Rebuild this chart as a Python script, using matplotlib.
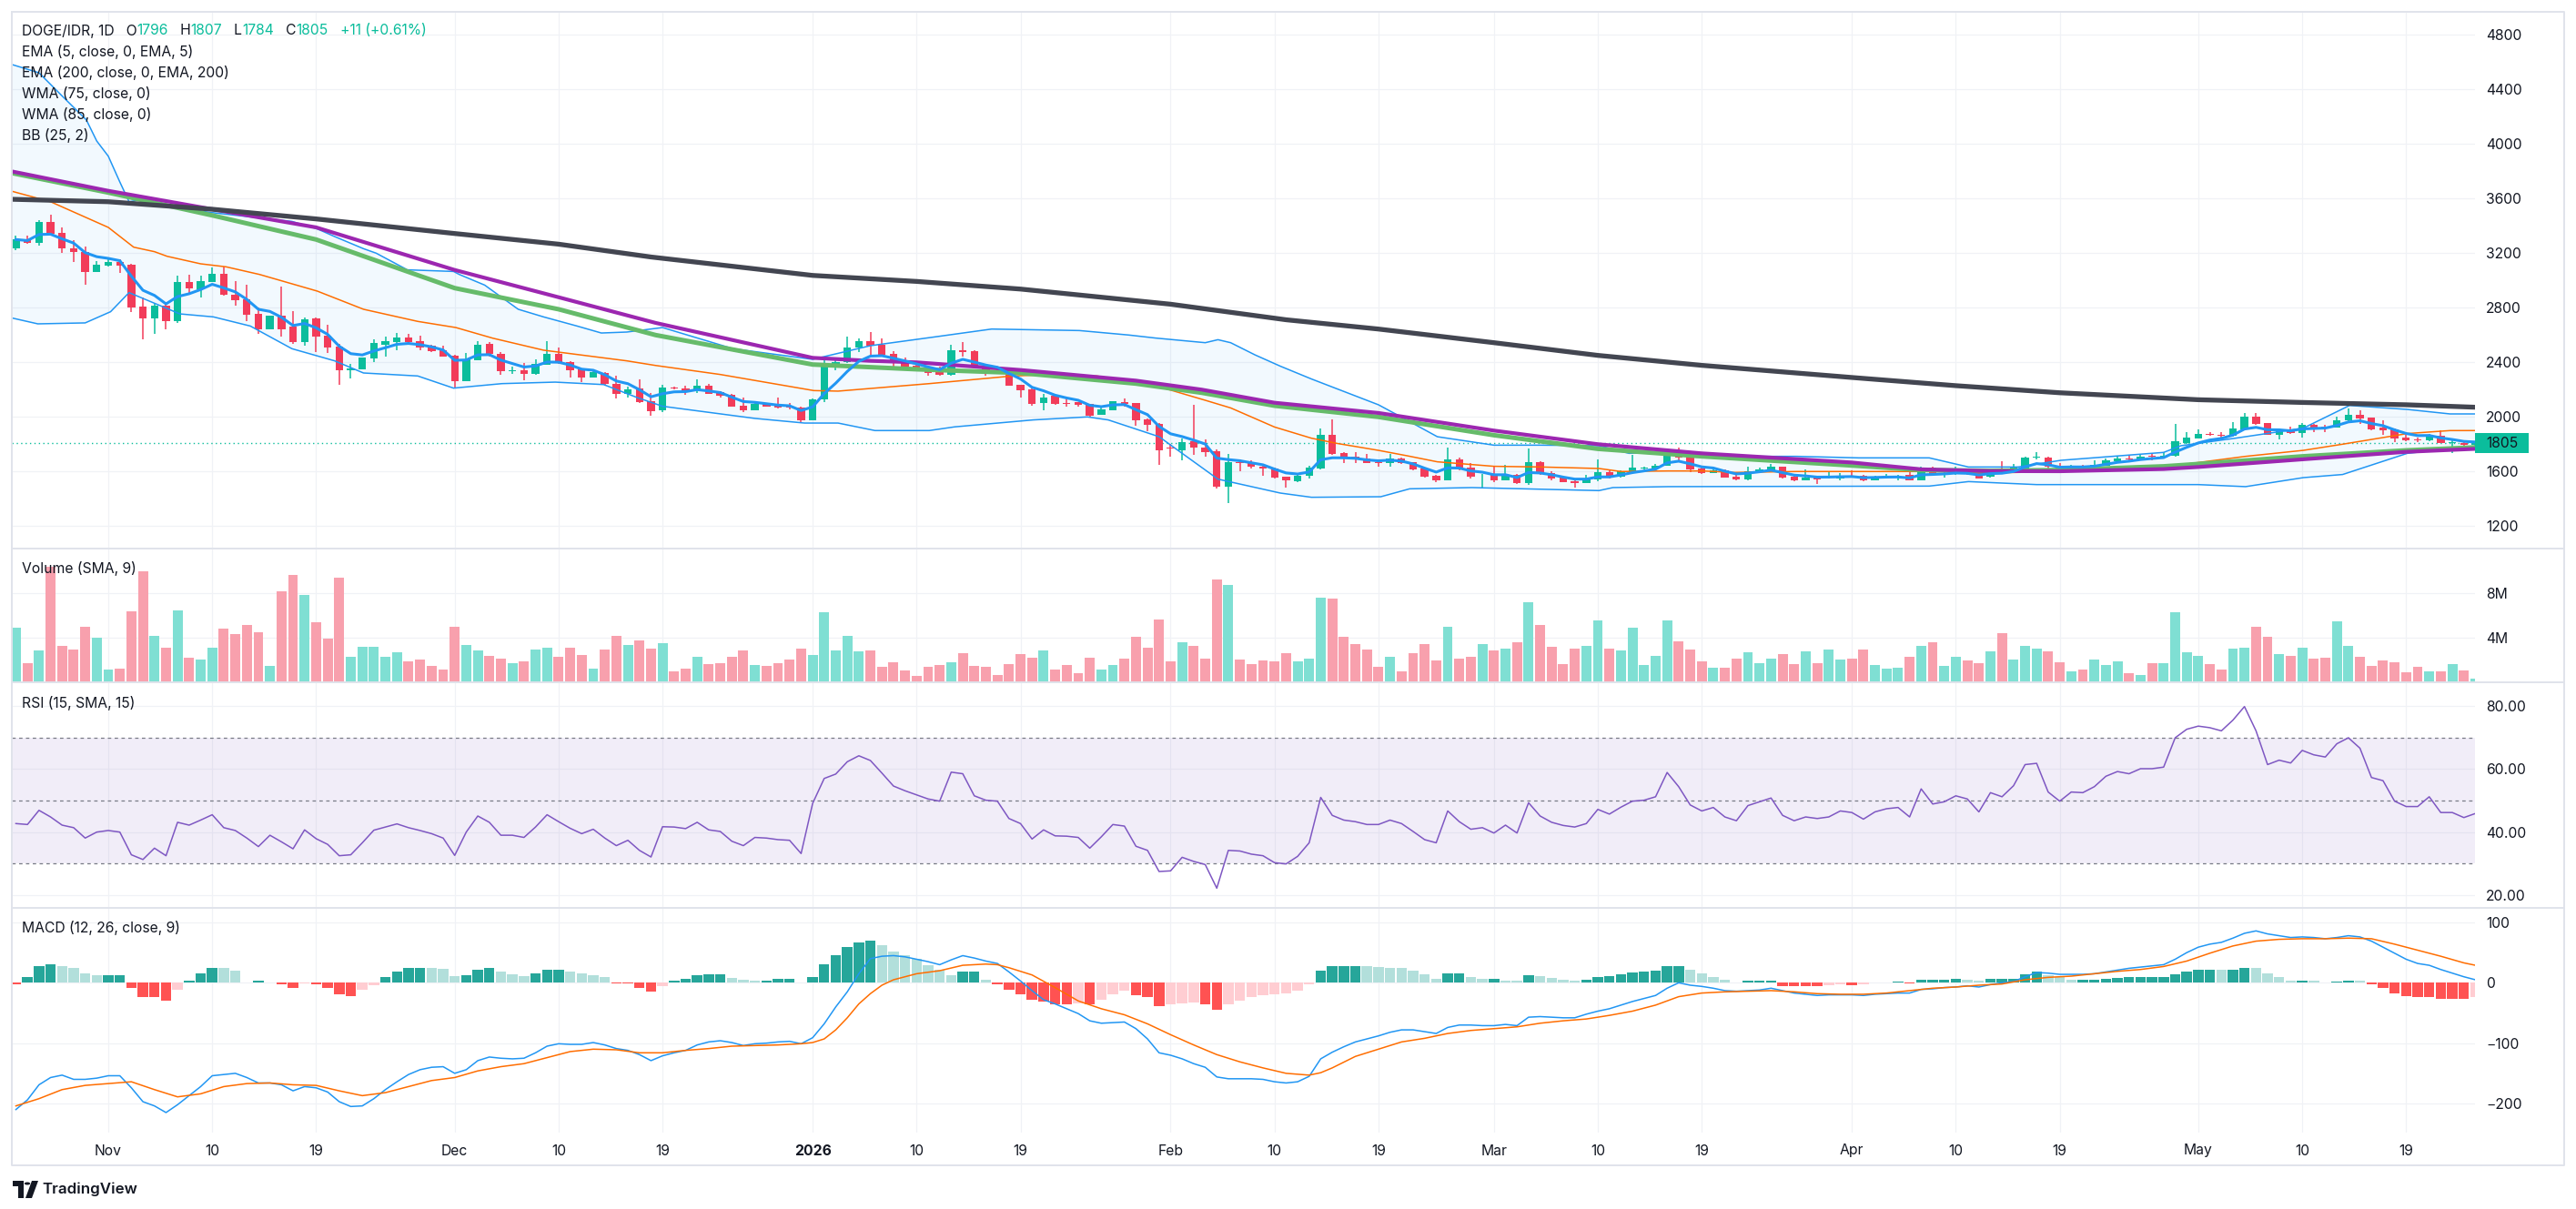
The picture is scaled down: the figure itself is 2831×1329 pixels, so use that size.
import numpy as np
import pandas as pd
import matplotlib
matplotlib.use("Agg")
import matplotlib.pyplot as plt
from matplotlib.lines import Line2D
from matplotlib.patches import Rectangle, Polygon, Circle

plt.rcParams['font.family'] = ['Inter', 'DejaVu Sans']

# ---------------- data (day 0 = 1 Nov 2025) ----------------
days = list(range(-8, 206))

opens = [3235, 3296, 3275, 3424, 3346, 3235, 3207, 3062, 3109, 3135,
         3113, 2806, 2720, 2813, 2702, 2987, 2936, 2989, 3047, 2895,
         2860, 2753, 2642, 2740, 2658, 2547, 2718, 2595, 2513, 2338,
         2347, 2429, 2527, 2549, 2580, 2553, 2520, 2487, 2447, 2262,
         2415, 2533, 2458, 2335, 2342, 2313, 2382, 2458, 2398, 2347,
         2287, 2320, 2242, 2169, 2209, 2113, 2049, 2213, 2209, 2191,
         2224, 2180, 2158, 2080, 2047, 2098, 2087, 2071, 2069, 1976,
         2124, 2364, 2398, 2504, 2553, 2527, 2458, 2391, 2375, 2353,
         2324, 2304, 2487, 2480, 2364, 2342, 2342, 2231, 2202, 2098,
         2153, 2098, 2104, 2091, 2015, 2049, 2109, 2098, 1980, 1947,
         1769, 1756, 1818, 1776, 1747, 1489, 1664, 1664, 1631, 1620,
         1560, 1527, 1564, 1620, 1864, 1731, 1709, 1691, 1666, 1660,
         1691, 1664, 1620, 1564, 1536, 1687, 1624, 1571, 1580, 1536,
         1575, 1513, 1664, 1587, 1553, 1527, 1516, 1542, 1593, 1560,
         1587, 1624, 1620, 1642, 1753, 1704, 1620, 1589, 1607, 1562,
         1540, 1598, 1609, 1631, 1562, 1536, 1553, 1556, 1549, 1566,
         1564, 1536, 1560, 1558, 1571, 1536, 1629, 1585, 1580, 1602,
         1587, 1558, 1609, 1591, 1620, 1700, 1698, 1631, 1593, 1636,
         1620, 1642, 1676, 1693, 1687, 1711, 1700, 1713, 1807, 1842,
         1873, 1867, 1858, 1909, 1998, 1953, 1869, 1902, 1882, 1938,
         1925, 1922, 1971, 2013, 1991, 1920, 1909, 1847, 1831, 1824,
         1862, 1807, 1809, 1796]

highs = [3325, 3329, 3442, 3480, 3387, 3291, 3247, 3142, 3153, 3153,
         3118, 2876, 2831, 2842, 3031, 3042, 3031, 3093, 3102, 2993,
         2964, 2798, 2742, 2953, 2776, 2727, 2725, 2671, 2531, 2387,
         2436, 2569, 2587, 2613, 2609, 2593, 2525, 2520, 2450, 2465,
         2553, 2547, 2476, 2365, 2391, 2420, 2553, 2509, 2404, 2350,
         2347, 2328, 2298, 2220, 2276, 2176, 2231, 2220, 2227, 2275,
         2242, 2187, 2165, 2138, 2098, 2100, 2138, 2098, 2076, 2131,
         2413, 2413, 2587, 2576, 2620, 2576, 2480, 2431, 2382, 2356,
         2365, 2524, 2547, 2487, 2376, 2369, 2345, 2236, 2209, 2169,
         2156, 2147, 2109, 2094, 2069, 2116, 2131, 2102, 1987, 1953,
         1798, 1842, 2087, 1831, 1760, 1725, 1687, 1680, 1642, 1624,
         1562, 1576, 1642, 1913, 1982, 1742, 1742, 1724, 1680, 1724,
         1698, 1666, 1622, 1576, 1775, 1698, 1658, 1582, 1631, 1647,
         1578, 1764, 1676, 1602, 1560, 1542, 1576, 1687, 1609, 1609,
         1720, 1631, 1653, 1764, 1771, 1720, 1627, 1620, 1613, 1587,
         1631, 1624, 1653, 1636, 1569, 1613, 1564, 1591, 1587, 1604,
         1576, 1569, 1580, 1576, 1591, 1631, 1634, 1604, 1631, 1616,
         1591, 1609, 1671, 1653, 1709, 1742, 1709, 1658, 1647, 1647,
         1680, 1691, 1716, 1720, 1720, 1736, 1742, 1944, 1887, 1909,
         1887, 1887, 1960, 2027, 2027, 1956, 1916, 1925, 1953, 1947,
         1942, 1998, 2058, 2047, 1993, 1971, 1911, 1864, 1847, 1876,
         1898, 1836, 1820, 1807]

lows = [3222, 3264, 3253, 3338, 3198, 3131, 2964, 3060, 3098, 3053,
        2764, 2564, 2604, 2642, 2687, 2898, 2876, 2985, 2887, 2815,
        2702, 2609, 2640, 2587, 2535, 2520, 2475, 2469, 2231, 2282,
        2345, 2398, 2442, 2487, 2542, 2487, 2471, 2438, 2209, 2258,
        2410, 2438, 2309, 2316, 2265, 2309, 2378, 2387, 2287, 2254,
        2285, 2227, 2131, 2142, 2098, 2009, 2031, 2198, 2160, 2176,
        2165, 2138, 2072, 2031, 2045, 2071, 2060, 2053, 1960, 1972,
        2109, 2338, 2391, 2476, 2442, 2442, 2338, 2342, 2340, 2298,
        2298, 2298, 2442, 2354, 2302, 2325, 2224, 2138, 2082, 2049,
        2087, 2071, 2076, 1998, 2013, 2047, 2076, 1931, 1894, 1649,
        1709, 1680, 1720, 1709, 1476, 1364, 1602, 1620, 1565, 1547,
        1480, 1520, 1547, 1616, 1720, 1660, 1660, 1658, 1631, 1631,
        1656, 1609, 1553, 1520, 1533, 1609, 1547, 1476, 1520, 1531,
        1509, 1502, 1576, 1531, 1520, 1480, 1515, 1527, 1547, 1556,
        1582, 1616, 1609, 1640, 1680, 1591, 1580, 1587, 1550, 1531,
        1536, 1591, 1604, 1547, 1525, 1533, 1509, 1549, 1531, 1553,
        1525, 1531, 1549, 1536, 1531, 1531, 1571, 1553, 1576, 1571,
        1545, 1553, 1589, 1589, 1616, 1687, 1620, 1587, 1591, 1613,
        1618, 1640, 1671, 1680, 1680, 1680, 1698, 1709, 1798, 1840,
        1858, 1849, 1856, 1904, 1942, 1864, 1836, 1876, 1849, 1887,
        1887, 1920, 1969, 1947, 1898, 1864, 1813, 1820, 1813, 1822,
        1804, 1733, 1769, 1784]

closes = [3298, 3275, 3424, 3342, 3235, 3209, 3062, 3113, 3135, 3109,
          2802, 2720, 2813, 2702, 2987, 2942, 2993, 3047, 2891, 2855,
          2749, 2642, 2740, 2642, 2547, 2713, 2587, 2507, 2342, 2353,
          2433, 2540, 2553, 2580, 2549, 2509, 2480, 2442, 2262, 2420,
          2527, 2458, 2335, 2338, 2313, 2387, 2458, 2396, 2338, 2287,
          2324, 2242, 2169, 2202, 2109, 2042, 2213, 2209, 2187, 2227,
          2169, 2153, 2075, 2047, 2093, 2075, 2064, 2069, 1976, 2124,
          2364, 2398, 2504, 2553, 2520, 2453, 2391, 2369, 2342, 2320,
          2304, 2487, 2476, 2360, 2335, 2329, 2227, 2195, 2093, 2138,
          2093, 2096, 2087, 2009, 2053, 2113, 2093, 1976, 1942, 1756,
          1766, 1813, 1776, 1742, 1489, 1664, 1660, 1631, 1618, 1553,
          1531, 1564, 1624, 1864, 1727, 1698, 1687, 1660, 1663, 1691,
          1660, 1613, 1560, 1536, 1687, 1620, 1560, 1575, 1536, 1575,
          1513, 1664, 1580, 1549, 1522, 1513, 1542, 1591, 1558, 1602,
          1624, 1627, 1642, 1753, 1698, 1616, 1587, 1607, 1553, 1540,
          1598, 1616, 1631, 1553, 1536, 1553, 1540, 1558, 1564, 1564,
          1536, 1558, 1562, 1560, 1536, 1620, 1582, 1588, 1600, 1580,
          1549, 1602, 1591, 1624, 1698, 1705, 1631, 1593, 1636, 1631,
          1647, 1680, 1693, 1691, 1709, 1709, 1713, 1820, 1847, 1871,
          1871, 1864, 1913, 1998, 1947, 1869, 1902, 1882, 1938, 1920,
          1922, 1973, 2013, 1987, 1909, 1902, 1842, 1824, 1830, 1864,
          1809, 1809, 1791, 1805]

volume_m = [4.86, 1.73, 2.82, 10.35, 3.29, 2.90, 5.02, 4.00, 1.12, 1.25,
            6.35, 9.96, 4.16, 3.14, 6.43, 2.20, 2.04, 3.14, 4.78, 4.31,
            5.18, 4.47, 1.49, 8.16, 9.65, 7.84, 5.41, 3.92, 9.41, 2.27,
            3.22, 3.22, 2.27, 2.67, 1.88, 2.04, 1.49, 1.18, 4.94, 3.37,
            2.82, 2.35, 2.12, 1.73, 1.88, 2.90, 3.14, 2.27, 3.14, 2.43,
            1.25, 2.90, 4.16, 3.37, 3.76, 2.98, 3.53, 0.94, 1.25, 2.27,
            1.65, 1.73, 2.27, 2.82, 1.57, 1.49, 1.73, 2.04, 3.06, 2.43,
            6.27, 2.82, 4.16, 2.75, 2.82, 1.41, 1.80, 1.10, 0.55, 1.41,
            1.57, 1.80, 2.59, 1.49, 1.41, 0.63, 1.65, 2.51, 2.20, 2.82,
            1.18, 1.57, 0.78, 2.20, 1.18, 1.57, 2.12, 4.08, 3.14, 5.65,
            1.88, 3.61, 3.29, 2.12, 9.25, 8.71, 2.04, 1.65, 1.96, 1.88,
            2.59, 1.88, 2.12, 7.61, 7.53, 4.08, 3.45, 2.90, 1.41, 2.27,
            1.02, 2.59, 3.45, 1.96, 4.94, 2.12, 2.27, 3.45, 2.82, 2.98,
            3.61, 7.22, 5.18, 3.22, 1.65, 2.98, 3.29, 5.57, 3.06, 2.82,
            4.86, 1.57, 2.35, 5.57, 3.69, 2.90, 1.88, 1.33, 1.33, 2.12,
            2.67, 1.73, 2.12, 2.51, 1.65, 2.75, 1.73, 2.90, 2.04, 2.12,
            2.90, 1.57, 1.25, 1.33, 2.27, 3.29, 3.61, 1.49, 2.27, 1.96,
            1.73, 2.75, 4.39, 2.04, 3.29, 3.06, 2.75, 1.80, 0.94, 1.18,
            2.04, 1.57, 1.88, 0.78, 0.63, 1.73, 1.73, 6.27, 2.67, 2.35,
            1.65, 1.18, 2.98, 3.14, 4.94, 4.08, 2.51, 2.35, 3.14, 2.12,
            2.20, 5.49, 3.29, 2.27, 1.49, 1.96, 1.80, 0.86, 1.41, 0.94,
            0.94, 1.65, 1.10, 0.31]

rsi = [42.7, 42.4, 46.9, 44.8, 42.2, 41.4, 38.1, 40.0, 40.5, 40.0,
       32.8, 31.3, 34.9, 32.5, 43.1, 42.2, 43.8, 45.5, 41.4, 40.5,
       38.1, 35.4, 39.0, 36.9, 34.7, 40.7, 37.9, 36.1, 32.5, 32.8,
       36.6, 40.6, 41.6, 42.6, 41.4, 40.5, 39.5, 38.1, 32.6, 40.0,
       45.1, 43.1, 39.0, 39.0, 38.3, 41.6, 45.5, 43.3, 41.2, 39.5,
       40.9, 38.1, 35.7, 37.4, 34.2, 32.1, 41.7, 41.6, 41.1, 43.1,
       40.7, 40.2, 37.1, 35.7, 38.3, 38.1, 37.6, 37.4, 33.2, 49.1,
       57.0, 58.4, 62.3, 64.2, 62.7, 58.7, 54.6, 53.1, 51.8, 50.5,
       49.8, 59.0, 58.5, 51.5, 50.1, 49.8, 44.3, 42.7, 37.8, 40.7,
       38.8, 38.7, 38.3, 34.9, 38.5, 42.4, 41.9, 35.5, 34.2, 27.5,
       27.7, 32.0, 30.7, 29.7, 22.2, 34.2, 34.0, 33.0, 32.5, 30.3,
       29.9, 32.3, 36.6, 51.0, 45.3, 43.8, 43.3, 42.4, 42.4, 43.8,
       42.7, 40.2, 37.6, 36.6, 46.7, 43.3, 40.9, 41.4, 39.7, 42.2,
       39.7, 49.3, 45.1, 43.1, 42.1, 41.6, 42.7, 47.2, 45.7, 47.9,
       49.8, 50.1, 51.2, 58.9, 54.4, 48.6, 46.7, 47.8, 44.8, 43.6,
       48.4, 49.6, 50.8, 45.3, 43.6, 44.8, 44.3, 44.8, 46.7, 46.2,
       44.1, 46.4, 47.4, 47.8, 44.8, 53.7, 48.9, 49.6, 51.5, 50.5,
       46.4, 52.5, 51.2, 54.7, 61.4, 61.8, 52.7, 49.8, 52.7, 52.5,
       54.4, 57.7, 59.2, 58.5, 60.1, 60.1, 60.6, 69.9, 72.6, 73.6,
       73.1, 72.1, 75.5, 79.8, 72.1, 61.4, 62.8, 61.9, 65.9, 64.5,
       63.8, 68.0, 69.9, 66.6, 57.3, 56.3, 49.8, 48.1, 48.1, 51.2,
       46.2, 46.2, 44.6, 45.9]

macd = [-210, -194, -169, -157, -153, -160, -160, -158, -154, -154,
        -174, -197, -204, -215, -202, -187, -172, -154, -152, -150,
        -157, -166, -166, -169, -179, -172, -174, -181, -197, -205,
        -204, -192, -177, -164, -152, -144, -140, -139, -150, -144,
        -129, -123, -125, -126, -125, -116, -105, -101, -102, -102,
        -99, -103, -109, -112, -119, -129, -121, -116, -112, -103,
        -98, -96, -99, -104, -101, -100, -98, -97, -101, -91,
        -68, -40, -15, 15, 40, 44, 45, 43, 39, 35,
        30, 38, 45, 41, 36, 32, 18, 3, -13, -28,
        -35, -43, -51, -63, -67, -66, -65, -76, -93, -116,
        -120, -126, -134, -140, -156, -159, -159, -159, -160, -164,
        -166, -164, -155, -126, -115, -106, -98, -93, -88, -82,
        -78, -78, -81, -84, -74, -70, -70, -71, -71, -69,
        -71, -57, -56, -57, -58, -58, -52, -47, -43, -37,
        -31, -26, -21, -9, 0, -4, -6, -9, -13, -14,
        -13, -12, -9, -13, -17, -19, -21, -20, -20, -20,
        -21, -19, -18, -17, -17, -11, -10, -8, -7, -5,
        -7, -3, 0, 2, 10, 17, 16, 14, 14, 14,
        15, 18, 21, 24, 26, 28, 30, 39, 50, 59,
        64, 67, 74, 82, 86, 81, 78, 75, 76, 75,
        73, 75, 78, 76, 69, 59, 49, 39, 32, 29,
        22, 16, 10, 5]

macd_hist = [-2, 9, 27, 31, 28, 25, 15, 12, 12, 12,
             -8, -23, -24, -29, -11, 3, 15, 25, 24, 20,
             1, 3, 0, -3, -9, -1, -3, -8, -19, -22,
             -11, -4, 9, 18, 24, 25, 24, 23, 11, 13,
             22, 24, 18, 14, 11, 15, 21, 22, 19, 16,
             13, 9, -1, -1, -8, -14, -5, 3, 7, 12,
             14, 14, 8, 5, 4, 4, 6, 6, 1, 9,
             30, 45, 60, 67, 70, 63, 51, 45, 39, 29,
             21, 12, 19, 19, 5, -3, -11, -19, -28, -31,
             -35, -35, -34, -35, -28, -19, -13, -20, -23, -39,
             -36, -34, -33, -36, -44, -36, -29, -23, -20, -19,
             -18, -13, -3, 20, 27, 28, 28, 27, 26, 25,
             24, 20, 14, 7, 15, 15, 10, 7, 7, 4,
             3, 13, 11, 8, 5, 4, 5, 9, 11, 14,
             17, 19, 20, 27, 27, 21, 15, 10, 5, 1,
             3, 4, 4, -5, -5, -6, -6, -4, -3, -4,
             -2, 0, 1, 2, -1, 5, 5, 5, 7, 5,
             4, 6, 6, 7, 14, 18, 12, 9, 5, 5,
             5, 7, 8, 9, 9, 9, 9, 14, 18, 22,
             22, 21, 21, 25, 24, 15, 10, 4, 4, 3,
             0, 2, 4, 3, -3, -9, -17, -22, -24, -24,
             -26, -26, -27, -23]

signal_days = [-8, -6, -4, -2, 0, 2, 4, 6, 8, 10, 12, 14, 16, 18, 20, 22, 24, 26, 28, 30,
               32, 34, 36, 38, 40, 42, 44, 46, 48, 50, 52, 54, 56, 58, 60, 61, 62, 63, 64,
               65, 66, 67, 68, 70, 72, 74, 76, 77, 78, 80, 82, 84, 86, 88, 90, 92, 94, 96,
               98, 100, 102, 104, 105, 106, 108, 110, 112, 114, 116, 118, 120, 122, 124,
               126, 128, 130, 132, 134, 136, 138, 140, 142, 144, 146, 148, 150, 152, 154,
               156, 158, 160, 162, 164, 166, 168, 170, 172, 174, 176, 178, 180, 182, 184,
               186, 188, 190, 192, 194, 196, 198, 200, 202, 204, 205]
signal_vals = [-204, -192, -177, -170, -167, -164, -177, -189, -184, -172, -167, -166, -169,
               -170, -179, -187, -182, -172, -162, -157, -146, -139, -134, -124, -114, -110,
               -111, -116, -116, -112, -109, -105, -104, -103, -101, -99, -93, -78, -58,
               -35, -18, -4, 5, 15, 20, 29, 31, 30, 25, 13, -8, -30, -43, -53, -68, -86,
               -103, -119, -131, -141, -150, -153, -149, -141, -122, -110, -98, -92, -84,
               -79, -76, -73, -67, -63, -60, -54, -47, -37, -23, -17, -15, -14, -13, -15,
               -18, -19, -19, -17, -13, -9, -7, -4, -2, 5, 9, 11, 15, 19, 22, 27, 36, 49,
               61, 69, 72, 73, 73, 74, 73, 64, 54, 44, 33, 29]

ema200_days = [-8.4, 0, 9, 18, 30, 39, 47, 61, 70, 79, 92, 102, 110, 120, 129, 138, 151,
               160, 169, 181, 190, 199, 205]
ema200_vals = [3593, 3575, 3520, 3449, 3342, 3264, 3170, 3035, 2991, 2935, 2824, 2710,
               2642, 2542, 2449, 2376, 2287, 2227, 2175, 2124, 2104, 2087, 2069]

wma75_days = [-8.4, 0, 9, 18, 30, 39, 47.4, 61, 66, 70, 79, 89, 94.7, 101, 110, 120, 129,
              138, 151, 157, 163, 169, 178, 181, 190, 199, 205]
wma75_vals = [3798, 3655, 3520, 3387, 3075, 2875, 2687, 2431, 2409, 2398, 2342, 2264, 2198,
              2102, 2027, 1898, 1798, 1731, 1664, 1614, 1601, 1600, 1616, 1631, 1687, 1742,
              1764]

wma85_days = [-8.4, 0, 9, 18, 30, 39, 47.4, 61, 70, 79, 89, 94.7, 101, 110, 120, 129, 138,
              151, 157, 163, 169, 178, 181, 190, 199, 205]
wma85_vals = [3786, 3642, 3475, 3298, 2942, 2787, 2598, 2382, 2347, 2320, 2242, 2175, 2080,
              1998, 1864, 1764, 1709, 1642, 1609, 1603, 1609, 1636, 1653, 1709, 1753, 1775]

bb_mid_days = [-8.4, -5, 0, 2.2, 4, 5.1, 8, 10.2, 13.1, 18.1, 22.1, 26.8, 30.1, 33.3, 37.7,
               44.9, 47.4, 53, 61.1, 63.2, 71.1, 78.3, 82, 85.6, 90.7, 95, 97.2, 101, 104.2,
               106.4, 110, 112.5, 115.1, 120, 124.1, 129.1, 131, 135.1, 138.1, 140.8, 146.2,
               151.6, 157.7, 163.6, 169.1, 178, 185.1, 190.1, 193.5, 199.1, 202.8, 205]
bb_mid_vals = [3653, 3575, 3387, 3242, 3209, 3175, 3120, 3098, 3042, 2920, 2787, 2698, 2653,
               2575, 2487, 2409, 2375, 2309, 2191, 2187, 2242, 2298, 2309, 2298, 2227, 2120,
               2064, 1924, 1842, 1804, 1753, 1713, 1669, 1636, 1631, 1620, 1598, 1602, 1602,
               1591, 1598, 1598, 1598, 1588, 1598, 1631, 1709, 1753, 1798, 1876, 1898, 1898]

bb_up_days = [-8.4, -6, -3.9, -1.9, -1, 0, 1, 1.8, 2.6, 5.1, 8.7, 12.3, 15.9, 18.1, 19.6,
              22.1, 23.2, 25.9, 29.9, 30.4, 32.6, 35.5, 37.7, 40.6, 42.7, 44.9, 48, 54.1, 61,
              66, 71.8, 76.5, 84.1, 88.4, 90.7, 95, 96.1, 97.2, 99.3, 101.5, 104.2, 110,
              112.2, 115.1, 120, 124.1, 129.1, 131.7, 135.1, 138.1, 146.2, 151.6, 157.7,
              161.1, 165.4, 169.1, 178, 179.5, 184.2, 190.1, 194.1, 199.1, 202.8, 205]
bb_up_vals = [4582, 4520, 4342, 4175, 4020, 3909, 3720, 3575, 3587, 3542, 3498, 3464, 3431,
              3376, 3320, 3231, 3198, 3076, 3064, 3042, 2964, 2787, 2731, 2664, 2613, 2620,
              2653, 2498, 2420, 2520, 2587, 2642, 2631, 2598, 2576, 2542, 2564, 2542, 2453,
              2370, 2276, 2087, 1987, 1853, 1791, 1791, 1787, 1731, 1742, 1709, 1709, 1698,
              1698, 1631, 1631, 1680, 1738, 1787, 1842, 1916, 2082, 2053, 2020, 2020]

bb_lo_days = [-8.4, -6.1, -2, 0.2, 1.8, 6.2, 9.1, 12.3, 15.9, 19.6, 22.1, 26.8, 29.9, 34.1,
              38.7, 42.9, 45.8, 48, 56, 60.3, 63.2, 66.4, 71.1, 73.3, 80.1, 84.8, 86.6, 91,
              96.1, 101.5, 104.2, 110.2, 112.7, 118.1, 129.1, 130.3, 135.1, 157.7, 161.1,
              167, 181, 185.1, 190.1, 193.5, 199.1, 202.8, 205]
bb_lo_vals = [2724, 2680, 2687, 2769, 2909, 2753, 2731, 2664, 2498, 2409, 2320, 2298, 2209,
              2242, 2253, 2235, 2140, 2076, 1987, 1953, 1953, 1898, 1898, 1925, 1976, 1998,
              1976, 1853, 1542, 1440, 1409, 1413, 1471, 1480, 1458, 1480, 1487, 1491, 1524,
              1502, 1502, 1487, 1553, 1576, 1731, 1764, 1764]

date_ticks = [0, 9, 18, 30, 39, 48, 61, 70, 79, 92, 101, 110, 120, 129, 138, 151, 160, 169,
              181, 190, 199]
date_labels = ['Nov', '10', '19', 'Dec', '10', '19', '2026', '10', '19', 'Feb', '10', '19',
               'Mar', '10', '19', 'Apr', '10', '19', 'May', '10', '19']

last_price = 1805

# ---------------- style ----------------
W, H = 2831, 1329
UP = '#0bbd9c'
DOWN = '#f23c5a'
VOL_UP = '#7fdfd3'
VOL_DOWN = '#f8a0ad'
TXT = '#131722'
GRID = '#f0f2f6'
BORDER = '#e0e3eb'
FS = 11.3

PL, PR = 13, 2720
XMIN = (PL - 119) / 12.69
XMAX = (PR - 119) / 12.69

fig = plt.figure(figsize=(W / 100, H / 100), dpi=100)
fig.patch.set_facecolor('white')


def fx(px):
    return px / W


def fy(py):
    return 1 - py / H


def pane(top, bottom, ylim, yticks, ylabels, hgrid):
    ax = fig.add_axes([fx(PL), fy(bottom), (PR - PL) / W, (bottom - top) / H])
    ax.set_xlim(XMIN, XMAX)
    ax.set_ylim(*ylim)
    ax.set_facecolor('none')
    for s in ax.spines.values():
        s.set_visible(False)
    ax.tick_params(axis='x', bottom=False, labelbottom=False)
    ax.yaxis.tick_right()
    ax.set_yticks(yticks)
    ax.set_yticklabels(ylabels)
    ax.tick_params(axis='y', length=0, pad=8.6, labelsize=FS, labelcolor=TXT)
    for t in date_ticks:
        ax.axvline(t, color=GRID, lw=0.9, zorder=0)
    for g in hgrid:
        ax.axhline(g, color=GRID, lw=0.9, zorder=0)
    return ax


d = np.array(days, dtype=float)
o = np.array(opens, dtype=float)
c = np.array(closes, dtype=float)
hi = np.maximum(np.array(highs, dtype=float), np.maximum(o, c))
lo = np.minimum(np.array(lows, dtype=float), np.minimum(o, c))
up = c >= o

# ---------------- price pane ----------------
price_ticks = list(range(1200, 5000, 400))
ax_p = pane(13, 603, (1033.3, 4966.7), price_ticks, [str(v) for v in price_ticks], price_ticks)

band = np.concatenate([np.column_stack([bb_up_days, bb_up_vals]),
                       np.column_stack([bb_lo_days, bb_lo_vals])[::-1]])
ax_p.add_patch(Polygon(band, closed=True, facecolor='#2196f3', alpha=0.055, lw=0, zorder=1))

col = np.where(up, UP, DOWN)
ax_p.vlines(d, lo, hi, colors=col, lw=1.1, zorder=3)
body = np.abs(c - o)
mid = (o + c) / 2
bh = np.maximum(body, 6)
bottom = np.where(body < 6, mid - 3, np.minimum(o, c))
ax_p.bar(d, bh, bottom=bottom, width=0.66, color=col, lw=0, zorder=3)

ax_p.plot(bb_up_days, bb_up_vals, color='#2196f3', lw=1.1, zorder=4)
ax_p.plot(bb_lo_days, bb_lo_vals, color='#2196f3', lw=1.1, zorder=4)
ax_p.plot(bb_mid_days, bb_mid_vals, color='#ff6d00', lw=1.1, zorder=4)
ax_p.plot(wma85_days, wma85_vals, color='#66bb6a', lw=3.6, zorder=5, solid_capstyle='butt')
ax_p.plot(wma75_days, wma75_vals, color='#9c27b0', lw=3.0, zorder=5, solid_capstyle='butt')
ax_p.plot(ema200_days, ema200_vals, color='#434651', lw=3.8, zorder=6, solid_capstyle='butt')
ema5 = pd.Series(closes, dtype=float).ewm(span=5, adjust=False).mean()
ax_p.plot(d, ema5, color='#2196f3', lw=2.2, zorder=6)
ax_p.axhline(last_price, color=UP, lw=1.0, ls=(0, (1, 2.5)), zorder=2)

# ---------------- volume pane ----------------
ax_v = pane(603, 750, (0, 12.0), [4, 8], ['4M', '8M'], [4, 8])
ax_v.bar(d, volume_m, width=0.86, color=np.where(up, VOL_UP, VOL_DOWN), lw=0, zorder=2)

# ---------------- RSI pane ----------------
ax_r = pane(750, 998, (15.96, 87.5), [20, 40, 60, 80],
            ['20.00', '40.00', '60.00', '80.00'], [20, 40, 60, 80])
ax_r.axhspan(30, 70, color='#7e57c2', alpha=0.1, lw=0, zorder=1)
for lvl in (30, 50, 70):
    ax_r.axhline(lvl, color='#787b86', lw=0.9, ls=(0, (3, 3)), zorder=2)
ax_r.plot(d, rsi, color='#7e57c2', lw=1.1, zorder=3)

# ---------------- MACD pane ----------------
ax_m = pane(998, 1245, (-248.2, 124.1), [100, 0, -100, -200],
            ['100', '0', '\u2212100', '\u2212200'], [100, 0, -100, -200])
hist = np.array(macd_hist, dtype=float)
prev = np.concatenate([[hist[0]], hist[:-1]])
hcol = np.where(hist >= 0,
                np.where(hist >= prev, '#26a69a', '#b2dfdb'),
                np.where(hist <= prev, '#ff5252', '#ffcdd2'))
ax_m.bar(d, hist, width=0.9, color=hcol, lw=0, zorder=2)
ax_m.plot(d, macd, color='#2196f3', lw=1.1, zorder=3)
ax_m.plot(signal_days, signal_vals, color='#ff6d00', lw=1.1, zorder=3)

# ---------------- time axis ----------------
for t, lab in zip(date_ticks, date_labels):
    fig.text(fx(119 + 12.69 * t), fy(1265), lab, ha='center', va='center', fontsize=FS,
             color=TXT, fontweight='bold' if lab == '2026' else 'normal')

# ---------------- frame / separators ----------------
for y in (603, 750, 998):
    fig.add_artist(Line2D([fx(13), fx(2818)], [fy(y), fy(y)], color=BORDER, lw=1.4))
fig.add_artist(Line2D([fx(13), fx(2818), fx(2818), fx(13), fx(13)],
                      [fy(13), fy(13), fy(1281), fy(1281), fy(13)], color=BORDER, lw=1.4))

# last price label
py = 487
fig.add_artist(Rectangle((fx(2720), fy(py + 11)), 59 / W, 22 / H, transform=fig.transFigure,
                         facecolor=UP, edgecolor='none'))
fig.text(fx(2750), fy(py), str(last_price), ha='center', va='center', fontsize=FS,
         color=TXT)

# ---------------- legends ----------------
renderer = fig.canvas.get_renderer()


def parts_text(x, y, parts, size=FS):
    for s, colr in parts:
        t = fig.text(fx(x), fy(y), s, ha='left', va='center', fontsize=size, color=colr)
        x += t.get_window_extent(renderer=renderer).width


parts_text(24, 34, [('DOGE/IDR, 1D   O', TXT), ('1796', UP), ('   H', TXT), ('1807', UP),
                    ('   L', TXT), ('1784', UP), ('   C', TXT), ('1805', UP),
                    ('   +11 (+0.61%)', UP)])
for i, s in enumerate(['EMA (5, close, 0, EMA, 5)', 'EMA (200, close, 0, EMA, 200)',
                       'WMA (75, close, 0)', 'WMA (85, close, 0)', 'BB (25, 2)']):
    fig.text(fx(24), fy(57 + 22.9 * i), s, ha='left', va='center', fontsize=FS, color=TXT)
fig.text(fx(24), fy(625), 'Volume (SMA, 9)', ha='left', va='center', fontsize=FS, color=TXT)
fig.text(fx(24), fy(773), 'RSI (15, SMA, 15)', ha='left', va='center', fontsize=FS, color=TXT)
fig.text(fx(24), fy(1020), 'MACD (12, 26, close, 9)', ha='left', va='center', fontsize=FS,
         color=TXT)

# ---------------- TradingView logo ----------------
def P(x, y):
    return (fx(x), fy(y))


fig.add_artist(Polygon([P(14, 1298), P(26, 1298), P(26, 1317), P(20, 1317), P(20, 1304),
                        P(14, 1304)], closed=True, transform=fig.transFigure,
                       facecolor=TXT, edgecolor='none'))
fig.add_artist(Circle(P(30, 1301), 3.2 / W, transform=fig.transFigure, facecolor=TXT,
                      edgecolor='none'))
fig.add_artist(Polygon([P(35, 1298), P(42, 1298), P(35, 1317), P(28, 1317)], closed=True,
                       transform=fig.transFigure, facecolor=TXT, edgecolor='none'))
fig.text(fx(46), fy(1307), 'TradingView', ha='left', va='center', fontsize=12.2,
         fontweight='semibold', color=TXT)

fig.savefig('out.png', dpi=100, facecolor='white')
